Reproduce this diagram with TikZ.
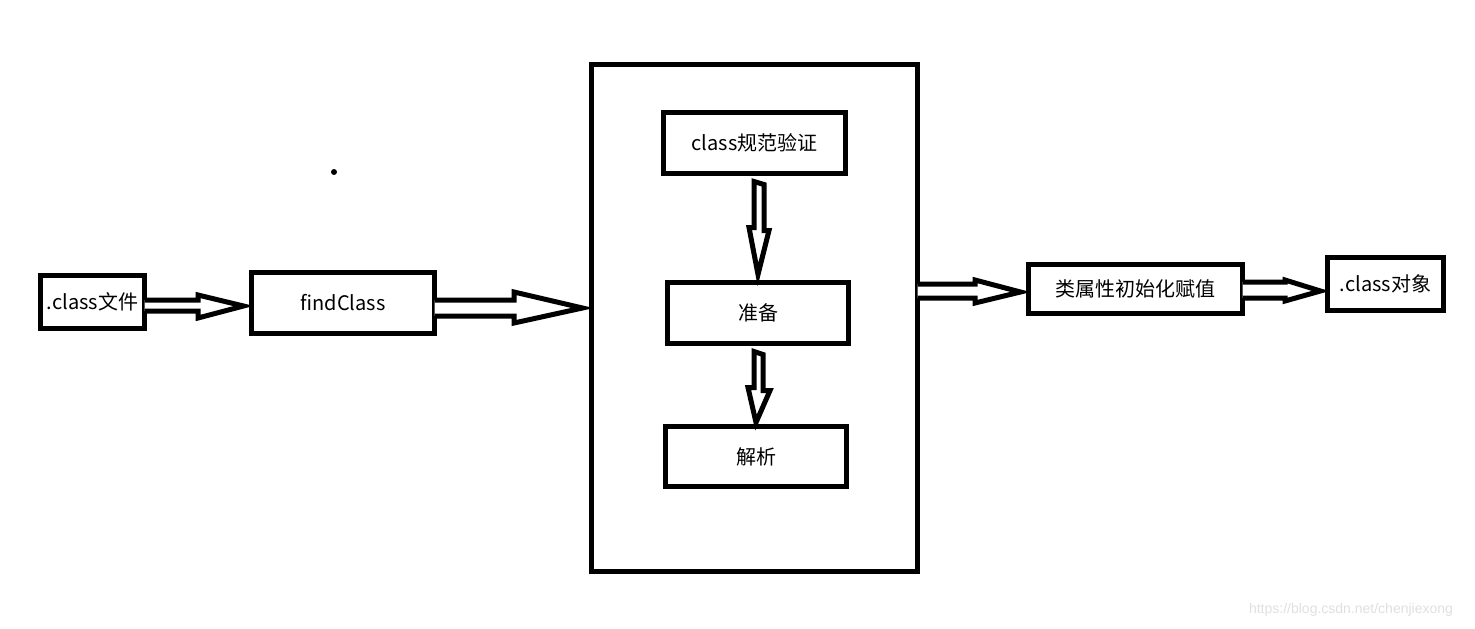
\documentclass[tikz,border=0pt]{standalone}
\usepackage{fontspec}
\setmainfont{Noto Sans CJK SC}
\newfontfamily\wmfont{Liberation Sans}
\usetikzlibrary{calc}
\begin{document}
\begin{tikzpicture}[x=1pt,y=-1pt,
  box/.style={draw,line width=5pt,inner sep=0pt,outer sep=0pt,font=\fontsize{20}{23}\selectfont},
  fatarrow/.style={draw,line width=5pt,line join=miter,miter limit=20,fill=white}]
\fill[white] (0,0) rectangle (1475,629);
\useasboundingbox (0,0) rectangle (1475,629);
% nodes
\node[box,minimum width=104pt,minimum height=53pt] (file) at (92.5,302) {.class文件};
\node[box,minimum width=183pt,minimum height=61pt] (find) at (343,303) {findClass};
\node[box,minimum width=326pt,minimum height=507pt] (link) at (754.5,318) {};
\node[box,minimum width=182pt,minimum height=61pt] (verify) at (754.5,143) {class规范验证};
\node[box,minimum width=181pt,minimum height=61pt] (prep) at (758,313) {准备};
\node[box,minimum width=181pt,minimum height=60pt] (parse) at (756,456.5) {解析};
\node[box,minimum width=214pt,minimum height=49pt] (init) at (1135.5,289) {类属性初始化赋值};
\node[box,minimum width=116pt,minimum height=53pt] (obj) at (1385.5,284) {.class对象};
% horizontal arrows
\draw[fatarrow] (file.east |- 0,300) -- (198,300) -- (198,295) -- ($(find.west |- 0,306)+(-8,0)$)
  -- (198,318) -- (198,311) -- (file.east |- 0,311);
\draw[fatarrow] (find.east |- 0,300) -- (514,300) -- (514,292) -- ($(link.west |- 0,308)+(-9,0)$)
  -- (514,323) -- (514,316) -- (find.east |- 0,316);
\draw[fatarrow] (link.east |- 0,284) -- (975,284) -- (975,280) -- ($(init.west |- 0,292)+(-8,0)$)
  -- (975,303) -- (975,298) -- (link.east |- 0,298);
\draw[fatarrow] (init.east |- 0,282) -- (1285,282) -- (1285,280) -- ($(obj.west |- 0,291)+(-7,0)$)
  -- (1285,301) -- (1285,298) -- (init.east |- 0,298);
% vertical arrows
\draw[fatarrow] ($(verify.south)+(-0.5,8)$) -- ++(0,46) -- ++(-5,0) -- ($(prep.north)+(0,-8)$)
  -- ++(11,-44) -- ++(-5,0) -- ++(0,-46) -- cycle;
\draw[fatarrow] ($(prep.south)+(-4,8)$) -- ++(0,36) -- ++(-6,0) -- ($(parse.north)+(0,-4)$)
  -- ++(14,-32) -- ++(-7,0) -- ++(0,-36) -- cycle;
% stray dot
\fill (334,172) circle (3);
% watermark
\node[font=\wmfont\fontsize{14}{16}\selectfont,text=black!12] (wm) at (1351,610) {https://blog.csdn.net/chenjiexong};
\end{tikzpicture}
\end{document}
